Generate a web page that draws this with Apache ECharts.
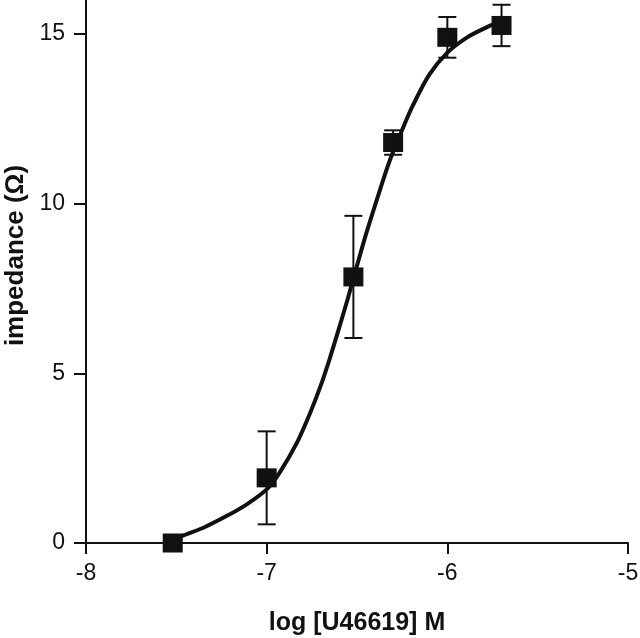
<!DOCTYPE html>
<html>
<head>
<meta charset="utf-8">
<script src="https://cdn.jsdelivr.net/npm/echarts@6/dist/echarts.min.js"></script>
<style>
html, body { margin: 0; background: #fff; }
#chart1 { width: 640px; height: 638px; }
</style>
</head>
<body>
<div id="chart1"></div>
<script>
// measured points (mean +/- error)
var logConc = [-7.52, -7.0, -6.52, -6.30, -6.0, -5.70];
var impedance = [0.0, 1.92, 7.84, 11.8, 14.9, 15.25];
var errors = [0, 1.37, 1.8, 0.36, 0.6, 0.61];

// fitted curve
var curveX = [-7.52, -7.47, -7.35, -7.22, -7.11, -7.0, -6.93, -6.83, -6.76, -6.70, -6.65, -6.60, -6.55, -6.51, -6.45, -6.37, -6.32, -6.24, -6.19, -6.10, -6.0, -5.89, -5.78, -5.72];
var curveY = [0.05, 0.2, 0.45, 0.8, 1.14, 1.58, 2.06, 2.98, 3.82, 4.65, 5.45, 6.32, 7.22, 7.98, 9.1, 10.45, 11.25, 12.3, 12.9, 13.8, 14.45, 14.9, 15.2, 15.33];

var xTicks = [-8, -7, -6, -5];
var yTicks = [0, 5, 10, 15];

var ink = '#111';
var font = "'Liberation Sans', Arial, sans-serif";

var points = logConc.map(function (x, i) { return [x, impedance[i]]; });
var bars = [];
logConc.forEach(function (x, i) {
    if (errors[i] > 0) bars.push([x, impedance[i] - errors[i], impedance[i] + errors[i]]);
});
var curve = curveX.map(function (x, i) { return [x, curveY[i]]; });

var chart1 = echarts.init(document.getElementById('chart1'));
chart1.setOption({
    animation: false,
    backgroundColor: '#fff',
    grid: { left: 86, right: 12, top: 0, bottom: 95, outerBoundsMode: 'none' },
    xAxis: {
        type: 'value',
        min: -8, max: -5, interval: 1,
        name: 'log [U46619] M',
        nameLocation: 'middle',
        nameGap: 68,
        nameTextStyle: { fontFamily: font, fontSize: 25, fontWeight: 'bold', color: ink },
        axisLine: { lineStyle: { color: ink, width: 2 } },
        axisTick: { show: true, length: 11, lineStyle: { color: ink, width: 2 }, customValues: xTicks },
        axisLabel: { margin: 19, fontFamily: font, fontSize: 23, color: ink, customValues: xTicks },
        splitLine: { show: false }
    },
    yAxis: {
        type: 'value',
        min: 0, max: 16, interval: 5,
        name: 'impedance (\u03A9)',
        nameLocation: 'middle',
        nameGap: 57,
        nameTextStyle: { fontFamily: font, fontSize: 26, fontWeight: 'bold', color: ink, padding: [0, 0, 0, 32] },
        axisLine: { show: true, lineStyle: { color: ink, width: 2 } },
        axisTick: { show: true, length: 12, lineStyle: { color: ink, width: 2 }, customValues: yTicks },
        axisLabel: { margin: 21, fontFamily: font, fontSize: 23, color: ink, customValues: yTicks },
        splitLine: { show: false }
    },
    series: [
        {
            name: 'fit',
            type: 'line',
            data: curve,
            showSymbol: false,
            smooth: 0.3,
            lineStyle: { color: ink, width: 4 },
            z: 2
        },
        {
            name: 'mean',
            type: 'scatter',
            data: points,
            symbol: 'rect',
            symbolSize: [20, 19],
            itemStyle: { color: ink, opacity: 1 },
            z: 3
        },
        {
            name: 'error',
            type: 'custom',
            data: bars,
            renderItem: function (params, api) {
                var x = api.value(0);
                var lo = api.coord([x, api.value(1)]);
                var hi = api.coord([x, api.value(2)]);
                var w = 9;
                var st = { stroke: ink, lineWidth: 2 };
                return {
                    type: 'group',
                    children: [
                        { type: 'line', shape: { x1: lo[0], y1: lo[1], x2: hi[0], y2: hi[1] }, style: st },
                        { type: 'line', shape: { x1: hi[0] - w, y1: hi[1], x2: hi[0] + w, y2: hi[1] }, style: st },
                        { type: 'line', shape: { x1: lo[0] - w, y1: lo[1], x2: lo[0] + w, y2: lo[1] }, style: st }
                    ]
                };
            },
            z: 4
        }
    ]
});
</script>
</body>
</html>
